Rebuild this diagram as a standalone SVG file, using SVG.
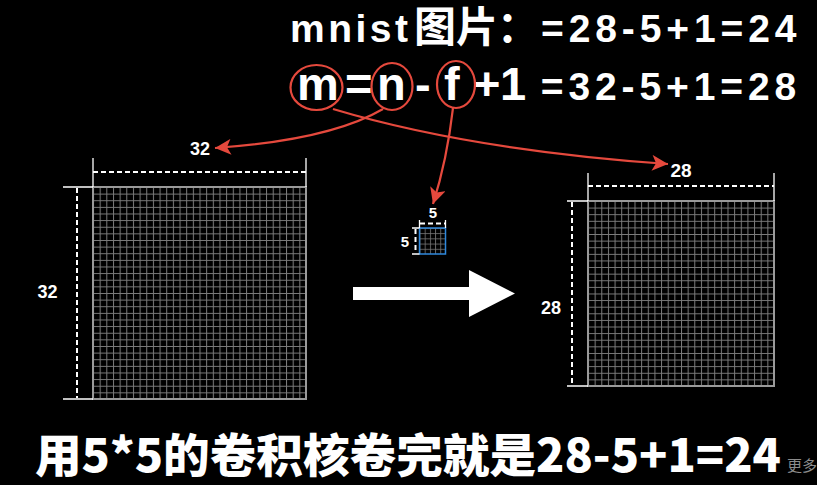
<svg xmlns="http://www.w3.org/2000/svg" width="817" height="485" viewBox="0 0 817 485">
  <defs>
    <style>
      .lbl { font-family: "Liberation Sans", Arial, sans-serif; font-weight: bold; fill: #fff; text-anchor: middle; }
      .dash { stroke: #fff; stroke-width: 2; stroke-dasharray: 5 3; fill: none; }
      .ext { stroke: #fff; stroke-width: 1.3; fill: none; }
      .red { stroke: #e5493d; stroke-width: 2.2; fill: none; }
      .gridborder { fill: none; stroke: #9a9a9a; stroke-width: 2; }
      .head { font-family: "Liberation Sans", "Noto Sans CJK SC", sans-serif; font-weight: bold; fill: #fff; }
    </style>
    <pattern id="gridL" patternUnits="userSpaceOnUse" x="93" y="187" width="6.65625" height="6.625">
      <path d="M0 0.5H6.65625M0.5 0V6.625" stroke="#7c7c7c" stroke-width="1" fill="none"/>
    </pattern>
    <pattern id="gridR" patternUnits="userSpaceOnUse" x="588" y="201" width="6.642857" height="6.607143">
      <path d="M0 0.5H6.642857M0.5 0V6.607143" stroke="#7c7c7c" stroke-width="1" fill="none"/>
    </pattern>
    <pattern id="gridK" patternUnits="userSpaceOnUse" x="419.5" y="228" width="5.2" height="5.2">
      <path d="M0 0.5H5.2M0.5 0V5.2" stroke="#777" stroke-width="0.8" fill="none"/>
    </pattern>
    <marker id="ah" viewBox="0 0 10 10" refX="10" refY="5" markerUnits="userSpaceOnUse" markerWidth="17" markerHeight="16" orient="auto">
      <path d="M0 0L10 5L0 10L2.5 5Z" fill="#e5493d"/>
    </marker>
  </defs>
  <rect width="817" height="485" fill="#000"/>

  <g id="formula">
    <text class="head" y="42" font-size="39"><tspan x="290" letter-spacing="3.5">mnist</tspan><tspan x="414" font-size="42">图片</tspan><tspan x="497" font-size="42">：</tspan><tspan x="541" letter-spacing="4.9">=28-5+1=24</tspan></text>
    <text class="head" y="100"><tspan x="297 345 377 415 444 473 500" font-size="47">m=n-f+1</tspan><tspan x="525" font-size="39" letter-spacing="4.9"> =32-5+1=28</tspan></text>
  </g>

  <g id="circles">
    <ellipse class="red" cx="316.5" cy="87.5" rx="26" ry="22.5"/>
    <ellipse class="red" cx="392" cy="86.5" rx="20.5" ry="23.5"/>
    <ellipse class="red" cx="456" cy="84.5" rx="19" ry="23.5"/>
  </g>

  <g id="connectors">
    <path class="red" d="M383 109Q330 140 215 148" marker-end="url(#ah)"/>
    <path class="red" d="M333 109Q470 150 668 164" marker-end="url(#ah)"/>
    <path class="red" d="M453 108Q447 160 433 204" marker-end="url(#ah)"/>
  </g>

  <g id="input">
    <rect x="93" y="187" width="213" height="212" fill="url(#gridL)"/>
    <rect class="gridborder" x="93" y="187" width="213" height="212"/>
    <path class="ext" d="M93 158V187M306 158V187M63 187H93M63 399H93"/>
    <path class="dash" d="M93 172H306M77 188V398"/>
    <text class="lbl" x="200" y="155" font-size="18">32</text>
    <text class="lbl" x="47.5" y="298" font-size="18">32</text>
  </g>

  <g id="kernel">
    <rect x="419.5" y="228" width="26" height="26" fill="url(#gridK)"/>
    <rect x="419.5" y="228" width="26" height="26" fill="none" stroke="#2f88dc" stroke-width="1.5"/>
    <path class="ext" d="M419.5 220V228M445.5 220V228M412 228H419.5M412 254H419.5"/>
    <path class="dash" d="M420 223.5H445M415.5 229V253" stroke-width="1.6" stroke-dasharray="3 2"/>
    <text class="lbl" x="433" y="218" font-size="15">5</text>
    <text class="lbl" x="405" y="247" font-size="15">5</text>
  </g>

  <g id="bigArrow">
    <polygon points="353,287 469,287 469,270 515,293.5 469,317 469,300 353,300" fill="#fff"/>
  </g>

  <g id="output">
    <rect x="588" y="201" width="186" height="185" fill="url(#gridR)"/>
    <rect class="gridborder" x="588" y="201" width="186" height="185"/>
    <path class="ext" d="M588 173V201M774 173V201M567 201H588M567 386H588"/>
    <path class="dash" d="M588 186H774M572 202V385"/>
    <text class="lbl" x="681" y="177" font-size="19">28</text>
    <text class="lbl" x="551" y="314" font-size="18">28</text>
  </g>

  <g id="caption">
    <text x="35" y="472" font-family="'Noto Sans CJK SC', 'Noto Sans', sans-serif" font-weight="900" font-size="46" fill="#fff" stroke="#000" stroke-width="3" paint-order="stroke" textLength="746" lengthAdjust="spacingAndGlyphs">用5*5的卷积核卷完就是28-5+1=24</text>
    <text x="787" y="471" font-family="'Noto Sans CJK SC', sans-serif" font-size="15" fill="#8c8c8c">更多</text>
  </g>
</svg>
